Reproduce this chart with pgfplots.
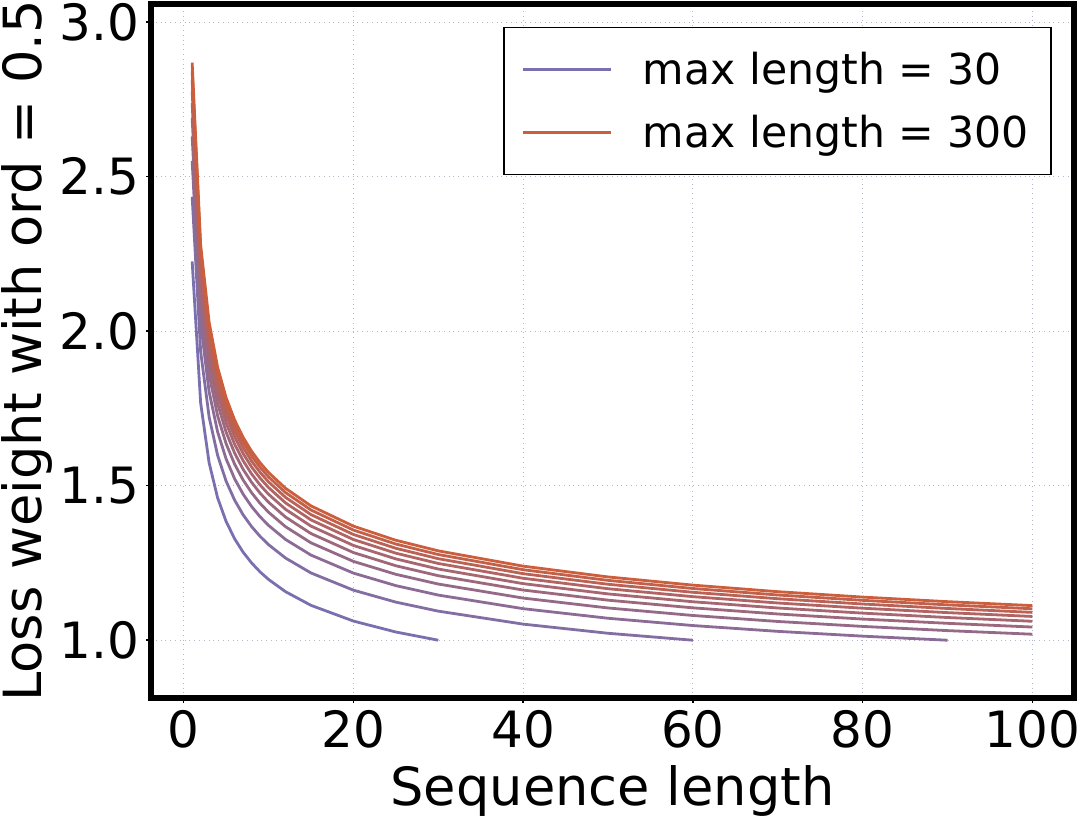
\documentclass[border=0pt]{standalone}
\usepackage{pgfplots}
\pgfplotsset{compat=1.18}
\usepackage{fontspec}
\setmainfont{DejaVu Sans}
\definecolor{c0}{RGB}{122,112,176}
\definecolor{c1}{RGB}{131,110,163}
\definecolor{c2}{RGB}{140,108,150}
\definecolor{c3}{RGB}{149,106,137}
\definecolor{c4}{RGB}{158,104,124}
\definecolor{c5}{RGB}{168,102,112}
\definecolor{c6}{RGB}{177,100,99}
\definecolor{c7}{RGB}{186,98,86}
\definecolor{c8}{RGB}{195,96,73}
\definecolor{c9}{RGB}{204,94,60}
\definecolor{gridc}{RGB}{176,184,200}
\begin{document}
\begin{tikzpicture}
\begin{axis}[
  at={(0,0)}, anchor=south west,
  scale only axis, width=461.5pt, height=347pt,
  xmin=-3.85, xmax=104.9, ymin=0.813, ymax=3.059,
  xtick={0,20,40,60,80,100}, ytick={1.0,1.5,2.0,2.5,3.0},
  yticklabel style={/pgf/number format/.cd, fixed, fixed zerofill, precision=1},
  /pgf/number format/assume math mode=true,
  tick label style={font=\fontsize{25}{30}\selectfont},
  label style={font=\fontsize{26.3}{32}\selectfont},
  xlabel={Sequence length}, ylabel={Loss weight with ord = 0.5},
  xlabel style={at={(axis description cs:0.5,-0.1556)}, anchor=base},
  ylabel style={at={(axis description cs:-0.1181,0.5)}, anchor=base, rotate=0},
  axis line style={line width=3pt},
  tick align=outside, tick pos=left,
  major tick length=2.5pt, tick style={line width=0.75pt, black},
  grid=major, major grid style={dotted, line width=0.5pt, color=gridc},
  legend style={at={(0.976,0.967)}, anchor=north east, draw=black, line width=0.75pt,
    font=\fontsize{21.3}{25}\selectfont, inner xsep=9pt, inner ysep=10pt, row sep=10pt,
    column sep=13pt},
  legend cell align=left,
  legend image code/.code={\draw[#1] (0pt,0pt) -- (44pt,0pt);},
  every axis plot/.append style={line width=1.4pt},
]
\addplot[c0] coordinates {(1,2.2258)(2,1.7680)(3,1.5739)(4,1.4607)(5,1.3844)(6,1.3284)(7,1.2851)(8,1.2502)(9,1.2212)(10,1.1967)(12,1.1571)(15,1.1129)(20,1.0620)(25,1.0266)(30,1.0000)};
\addlegendentry{max length = 30}
\addplot[c1, forget plot] coordinates {(1,2.4353)(2,1.9344)(3,1.7220)(4,1.5982)(5,1.5147)(6,1.4535)(7,1.4060)(8,1.3678)(9,1.3362)(10,1.3093)(12,1.2660)(15,1.2177)(20,1.1620)(25,1.1233)(30,1.0941)(40,1.0521)(50,1.0225)(60,1.0000)};
\addplot[c2, forget plot] coordinates {(1,2.5510)(2,2.0263)(3,1.8039)(4,1.6742)(5,1.5867)(6,1.5226)(7,1.4728)(8,1.4328)(9,1.3996)(10,1.3716)(12,1.3262)(15,1.2755)(20,1.2172)(25,1.1767)(30,1.1461)(40,1.1021)(50,1.0711)(60,1.0475)(70,1.0287)(80,1.0132)(90,1.0000)};
\addplot[c3, forget plot] coordinates {(1,2.6304)(2,2.0893)(3,1.8600)(4,1.7262)(5,1.6360)(6,1.5699)(7,1.5187)(8,1.4774)(9,1.4432)(10,1.4142)(12,1.3674)(15,1.3152)(20,1.2551)(25,1.2133)(30,1.1818)(40,1.1364)(50,1.1044)(60,1.0801)(70,1.0607)(80,1.0447)(90,1.0311)(100,1.0194)};
\addplot[c4, forget plot] coordinates {(1,2.6905)(2,2.1370)(3,1.9024)(4,1.7656)(5,1.6734)(6,1.6057)(7,1.5533)(8,1.5111)(9,1.4761)(10,1.4465)(12,1.3986)(15,1.3452)(20,1.2837)(25,1.2410)(30,1.2088)(40,1.1624)(50,1.1296)(60,1.1048)(70,1.0849)(80,1.0685)(90,1.0547)(100,1.0426)};
\addplot[c5, forget plot] coordinates {(1,2.7386)(2,2.1753)(3,1.9365)(4,1.7973)(5,1.7033)(6,1.6345)(7,1.5811)(8,1.5382)(9,1.5025)(10,1.4724)(12,1.4237)(15,1.3693)(20,1.3067)(25,1.2632)(30,1.2304)(40,1.1831)(50,1.1499)(60,1.1245)(70,1.1043)(80,1.0877)(90,1.0735)(100,1.0613)};
\addplot[c6, forget plot] coordinates {(1,2.7787)(2,2.2072)(3,1.9648)(4,1.8236)(5,1.7283)(6,1.6584)(7,1.6043)(8,1.5607)(9,1.5246)(10,1.4940)(12,1.4445)(15,1.3894)(20,1.3259)(25,1.2817)(30,1.2484)(40,1.2005)(50,1.1667)(60,1.1410)(70,1.1205)(80,1.1036)(90,1.0893)(100,1.0769)};
\addplot[c7, forget plot] coordinates {(1,2.8130)(2,2.2344)(3,1.9891)(4,1.8461)(5,1.7496)(6,1.6789)(7,1.6241)(8,1.5799)(9,1.5434)(10,1.5124)(12,1.4623)(15,1.4065)(20,1.3422)(25,1.2975)(30,1.2638)(40,1.2153)(50,1.1811)(60,1.1551)(70,1.1343)(80,1.1172)(90,1.1027)(100,1.0901)};
\addplot[c8, forget plot] coordinates {(1,2.8429)(2,2.2582)(3,2.0103)(4,1.8657)(5,1.7682)(6,1.6967)(7,1.6414)(8,1.5967)(9,1.5598)(10,1.5285)(12,1.4779)(15,1.4214)(20,1.3565)(25,1.3113)(30,1.2773)(40,1.2282)(50,1.1937)(60,1.1674)(70,1.1464)(80,1.1291)(90,1.1144)(100,1.1018)};
\addplot[c9] coordinates {(1,2.8695)(2,2.2792)(3,2.0290)(4,1.8831)(5,1.7847)(6,1.7126)(7,1.6567)(8,1.6116)(9,1.5743)(10,1.5427)(12,1.4917)(15,1.4347)(20,1.3692)(25,1.3235)(30,1.2892)(40,1.2397)(50,1.2048)(60,1.1783)(70,1.1571)(80,1.1396)(90,1.1248)(100,1.1120)};
\addlegendentry{max length = 300}
\end{axis}
\pgfresetboundingbox
\useasboundingbox (-75.5pt,-61pt) rectangle (464.5pt,349pt);
\end{tikzpicture}
\end{document}
